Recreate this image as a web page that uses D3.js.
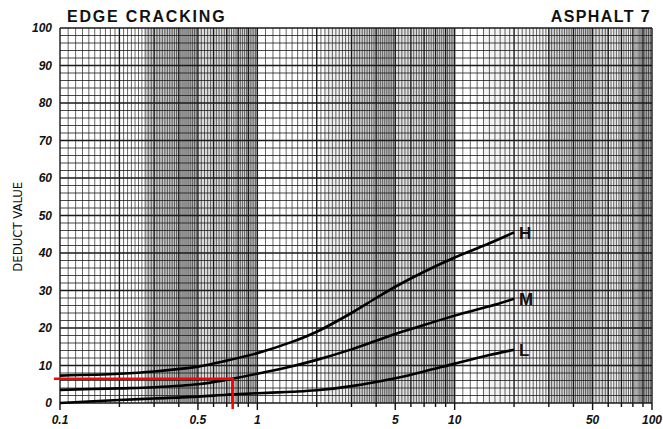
<!DOCTYPE html>
<html>
<head>
<meta charset="utf-8">
<script src="https://cdn.jsdelivr.net/npm/d3@7"></script>
<style>
	body { margin: 0; background: #fff; }
	text { font-family: "Liberation Sans", Arial, sans-serif; font-weight: bold; fill: #111; }
</style>
</head>
<body>
<svg class="chart" width="663" height="429"></svg>
<script>
// Data
const densities = [0.1, 0.2, 0.3, 0.5, 0.7, 1, 1.5, 2, 3, 4, 5, 7, 10, 15, 20];
const highValues = [7.3, 7.8, 8.4, 9.7, 11.3, 13.3, 16.3, 19, 24, 28, 31, 35, 38.8, 42.6, 45.5];
const mediumValues = [3.5, 3.9, 4.2, 5.0, 6.2, 7.8, 9.8, 11.5, 14.3, 16.6, 18.4, 20.8, 23.3, 25.8, 27.8];
const lowValues = [0, 0.8, 1.2, 1.7, 2.2, 2.6, 3.0, 3.4, 4.5, 5.6, 6.6, 8.4, 10.5, 12.8, 14.2];
const severities = ["H", "M", "L"];
const xTickLabels = [0.1, 0.5, 1, 5, 10, 50, 100];
const yTickLabels = [0, 10, 20, 30, 40, 50, 60, 70, 80, 90, 100];
const example = { density: 0.75, deduct: 6.5 };
// scan shading bands [from, to, darkness]
const shadeBands = [[0.27, 0.5, 0.35], [0.5, 1, 0.22], [2.2, 3, 0.1], [3, 5, 0.28], [5, 10, 0.2], [14, 30, 0.08], [30, 60, 0.25], [60, 85, 0.1], [85, 100, 0.38]];

////////////////////////////////////////////////////////////
//// Setup /////////////////////////////////////////////////
////////////////////////////////////////////////////////////
const svg = d3.select(".chart");
const margin = { top: 28, right: 11, bottom: 26, left: 60 };
const width = 663 - margin.left - margin.right;
const height = 429 - margin.top - margin.bottom;

const x = d3.scaleLog().domain([0.1, 100]).range([0, width]);
const y = d3.scaleLinear().domain([0, 100]).range([height, 0]);

const g = svg.append("g").attr("transform", `translate(${margin.left},${margin.top})`);

// shading
g.append("g")
	.selectAll("rect")
	.data(shadeBands)
	.join("rect")
	.attr("x", d => x(d[0]))
	.attr("width", d => x(d[1]) - x(d[0]))
	.attr("y", 0)
	.attr("height", height)
	.attr("fill", "#666")
	.attr("fill-opacity", d => d[2]);

// vertical grid of log paper
const vLines = [];
[0.1, 1, 10].forEach(dec => {
	for (let m = 10; m < 50; m += 1) vLines.push({ v: dec * m / 10, major: m % 10 === 0 });
	for (let m = 50; m < 100; m += 2) vLines.push({ v: dec * m / 10, major: m % 10 === 0 });
});
vLines.push({ v: 100, major: true });

g.append("g")
	.selectAll("line")
	.data(vLines)
	.join("line")
	.attr("x1", d => x(d.v))
	.attr("x2", d => x(d.v))
	.attr("y1", 0)
	.attr("y2", height)
	.attr("stroke", "#1a1a1a")
	.attr("stroke-opacity", d => (d.major ? 1 : 0.75))
	.attr("stroke-width", d => (d.major ? 1.4 : 0.9));

// horizontal grid
g.append("g")
	.selectAll("line")
	.data(d3.range(0, 101, 2))
	.join("line")
	.attr("x1", 0)
	.attr("x2", width)
	.attr("y1", d => y(d))
	.attr("y2", d => y(d))
	.attr("stroke", "#1a1a1a")
	.attr("stroke-opacity", d => (d % 10 === 0 ? 1 : 0.8))
	.attr("stroke-width", d => (d % 10 === 0 ? 1.5 : 1));

// bottom tick marks
const tickMarks = vLines.filter(d => d.major).map(d => d.v);
g.append("g")
	.selectAll("line")
	.data(tickMarks)
	.join("line")
	.attr("x1", d => x(d))
	.attr("x2", d => x(d))
	.attr("y1", height)
	.attr("y2", d => height + (xTickLabels.includes(d) ? 7 : 4))
	.attr("stroke", "#111")
	.attr("stroke-width", 1.4);

// axis labels
g.append("g")
	.selectAll("text")
	.data(xTickLabels)
	.join("text")
	.attr("x", d => x(d))
	.attr("y", height + 21)
	.attr("text-anchor", "middle")
	.attr("font-size", 12)
	.attr("font-style", "italic")
	.text(d => d);

g.append("g")
	.selectAll("text")
	.data(yTickLabels)
	.join("text")
	.attr("x", -8)
	.attr("y", d => y(d))
	.attr("dy", "0.35em")
	.attr("text-anchor", "end")
	.attr("font-size", 12)
	.attr("font-style", "italic")
	.text(d => d);

svg.append("text")
	.attr("transform", `translate(22,${margin.top + y(47)}) rotate(-90)`)
	.attr("text-anchor", "middle")
	.style("font-size", "13px")
	.style("font-weight", "normal")
	.style("font-family", "'DejaVu Sans Condensed', 'Liberation Sans Narrow', sans-serif")
	.text("DEDUCT VALUE");

svg.append("text")
	.attr("x", 67)
	.attr("y", 22)
	.attr("font-size", 16)
	.attr("letter-spacing", 1.8)
	.text("EDGE CRACKING");

svg.append("text")
	.attr("x", 651)
	.attr("y", 22)
	.attr("text-anchor", "end")
	.attr("font-size", 16)
	.attr("letter-spacing", 1.4)
	.text("ASPHALT  7");

////////////////////////////////////////////////////////////
//// Curves ////////////////////////////////////////////////
////////////////////////////////////////////////////////////
const series = [highValues, mediumValues, lowValues];
const line = d3
	.line()
	.x((d, i) => x(densities[i]))
	.y(d => y(d))
	.curve(d3.curveCatmullRom.alpha(0.5));

g.append("g")
	.selectAll("path")
	.data(series)
	.join("path")
	.attr("d", line)
	.attr("fill", "none")
	.attr("stroke", "#000")
	.attr("stroke-width", 2.6);

g.append("g")
	.selectAll("text")
	.data(series)
	.join("text")
	.attr("x", x(densities[densities.length - 1]) + 5)
	.attr("y", d => y(d[d.length - 1]))
	.attr("dy", "0.38em")
	.attr("font-size", 17)
	.text((d, i) => severities[i]);

// example reading
g.append("path")
	.attr("d", `M${-6},${y(example.deduct)}H${x(example.density)}V${height + 6}`)
	.attr("fill", "none")
	.attr("stroke", "#f00")
	.attr("stroke-width", 2.5);
</script>
</body>
</html>
